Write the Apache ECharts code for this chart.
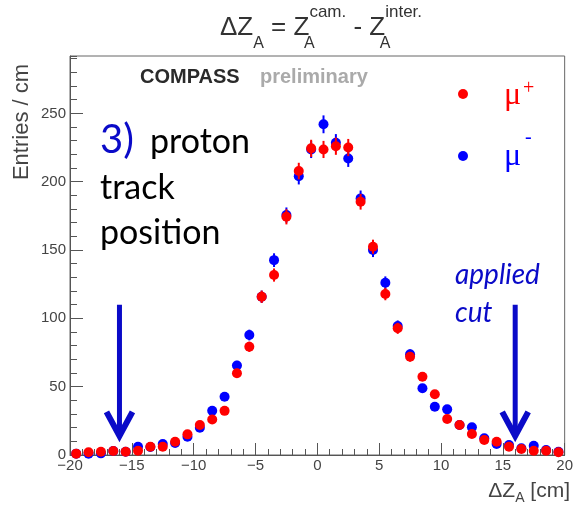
<!DOCTYPE html>
<html>
<head>
<meta charset="utf-8">
<title>ΔZ_A COMPASS</title>
<script src="https://cdn.jsdelivr.net/npm/echarts@6/dist/echarts.min.js"></script>
<style>
html, body { margin: 0; padding: 0; background: #fff; }
#chart { width: 576px; height: 505px; }
</style>
</head>
<body>
<div id="chart"></div>
<script>
// 1 cm bins, -20 .. 20
var binCenters = [-19.5, -18.5, -17.5, -16.5, -15.5, -14.5, -13.5, -12.5, -11.5, -10.5,
                  -9.5, -8.5, -7.5, -6.5, -5.5, -4.5, -3.5, -2.5, -1.5, -0.5,
                  0.5, 1.5, 2.5, 3.5, 4.5, 5.5, 6.5, 7.5, 8.5, 9.5,
                  10.5, 11.5, 12.5, 13.5, 14.5, 15.5, 16.5, 17.5, 18.5, 19.5];
// mu+ (red)
var muPlus = [1, 2, 2.4, 2.9, 2.4, 3.1, 6.1, 6.1, 9.7, 15.1,
              21.9, 26, 32.3, 59.8, 79.2, 115.8, 131.7, 174.3, 207.8, 224.4,
              223.6, 226, 225, 185.3, 152.4, 117.8, 92.7, 71.9, 57.3, 44.4,
              26.3, 21.9, 15.4, 11, 9.7, 6.1, 4.4, 3.1, 3.1, 2];
// mu- (blue)
var muMinus = [1, 1, 1.2, 2.9, 2.4, 6.1, 5.9, 8, 8.8, 13.4,
               20, 32.4, 42.6, 65.5, 87.8, 115.8, 142.6, 175.6, 204, 223.6,
               242, 228.5, 217, 187.8, 150, 126, 94.4, 73.7, 48.8, 35.3,
               33.4, 22, 20.3, 12.2, 8, 7.3, 4.9, 6.8, 3.7, 2.4];
// applied cut on |dZ|
var cutValues = [-16, 16];

var RED = '#ff0000';
var BLUE = '#0000ff';
var NOTE_BLUE = '#0a0ac8';
var TXT = '#444';

var chart = echarts.init(document.getElementById('chart'));

function pointItem(color) {
    return function (params, api) {
        var x = api.value(0), y = api.value(1);
        var c = api.coord([x, y]);
        var e = Math.sqrt(y) * 0.42;
        var hi = api.coord([x, y + e]);
        var lo = api.coord([x, Math.max(0, y - e)]);
        return {
            type: 'group',
            children: [
                { type: 'line', shape: { x1: c[0], y1: hi[1], x2: c[0], y2: lo[1] },
                  style: { stroke: color, lineWidth: 2 } },
                { type: 'circle', shape: { cx: c[0], cy: c[1], r: 5 }, style: { fill: color } }
            ]
        };
    };
}

// arrows pointing down at the cut positions
function arrowItem(params, api) {
    var x = api.value(0);
    var top = api.coord([x, 110]);
    var tip = api.coord([x, 14]);
    return {
        type: 'group',
        children: [
            { type: 'line', shape: { x1: top[0], y1: top[1], x2: tip[0], y2: tip[1] - 3 },
              style: { stroke: NOTE_BLUE, lineWidth: 5 } },
            { type: 'polyline',
              shape: { points: [[tip[0] - 13, tip[1] - 24], [tip[0], tip[1]], [tip[0] + 13, tip[1] - 24]] },
              style: { stroke: NOTE_BLUE, lineWidth: 6, fill: null, lineJoin: 'miter' } }
        ]
    };
}

var option = {
    animation: false,
    backgroundColor: '#fff',
    grid: { left: 70, right: 4, top: 56, bottom: 50, show: true, borderColor: '#666', borderWidth: 1 },
    xAxis: {
        type: 'value', min: -20, max: 20, interval: 5,
        axisLine: { onZero: false, lineStyle: { color: '#555' } },
        axisTick: { inside: true, length: 12, lineStyle: { color: '#555' } },
        minorTick: { show: true, splitNumber: 5, length: 6, lineStyle: { color: '#555' } },
        splitLine: { show: false },
        axisLabel: {
            color: TXT, fontSize: 15, fontFamily: 'Liberation Sans', margin: 3,
            formatter: function (v) { return String(v).replace('-', '\u2212'); }
        }
    },
    yAxis: [{
        type: 'value', min: 0, max: 292, interval: 50, position: 'left',
        axisLine: { show: true, onZero: false, lineStyle: { color: '#555' } },
        axisTick: { show: true, inside: true, length: 13, lineStyle: { color: '#555' } },
        splitLine: { show: false },
        axisLabel: { color: TXT, fontSize: 15, fontFamily: 'Liberation Sans', margin: 4, showMaxLabel: false }
    }, {
        // minor ticks every 10
        type: 'value', min: 0, max: 292, interval: 10, position: 'left',
        axisLine: { show: false, onZero: false },
        axisTick: { show: true, inside: true, length: 7, lineStyle: { color: '#555' } },
        splitLine: { show: false },
        axisLabel: { show: false }
    }],
    series: [{
        name: 'mu-', type: 'custom', renderItem: pointItem(BLUE),
        itemStyle: { color: BLUE },
        data: binCenters.map(function (x, i) { return [x, muMinus[i]]; })
    }, {
        name: 'mu+', type: 'custom', renderItem: pointItem(RED),
        itemStyle: { color: RED },
        data: binCenters.map(function (x, i) { return [x, muPlus[i]]; })
    }, {
        name: 'cut', type: 'custom', renderItem: arrowItem, z: 5,
        data: cutValues.map(function (v) { return [v, 0]; })
    }],
    graphic: [
        // title
        { type: 'text', x: 321, y: 4, style: {
            text: '{m|ΔZ}{sb|A}{m| = Z}{s0|A}{sp|cam.}{m| - Z}{s0|A}{sp|inter.}',
            align: 'center', verticalAlign: 'top', fill: '#333',
            rich: {
                m: { fontSize: 26, lineHeight: 48, fontFamily: 'Liberation Sans', fill: '#333' },
                sb: { fontSize: 16, lineHeight: 24, verticalAlign: 'bottom', fontFamily: 'Liberation Sans', fill: '#333' },
                s0: { fontSize: 16, lineHeight: 24, width: 0, verticalAlign: 'bottom', fontFamily: 'Liberation Sans', fill: '#333' },
                sp: { fontSize: 17, lineHeight: 14, verticalAlign: 'top', fontFamily: 'Liberation Sans', fill: '#333' }
            }
        } },
        // axis titles
        { type: 'text', x: 22, y: 122, rotation: Math.PI / 2, style: {
            text: 'Entries / cm', align: 'center', verticalAlign: 'middle',
            fontSize: 22, fontFamily: 'Liberation Sans', fill: TXT
        } },
        { type: 'text', x: 570, y: 477, style: {
            text: '{m|ΔZ}{sb|A}{m| [cm]}', align: 'right', verticalAlign: 'top', fill: TXT,
            rich: {
                m: { fontSize: 21, lineHeight: 28, fontFamily: 'Liberation Sans', fill: TXT },
                sb: { fontSize: 14, lineHeight: 14, verticalAlign: 'bottom', fontFamily: 'Liberation Sans', fill: TXT }
            }
        } },
        // experiment tag
        { type: 'text', x: 140, y: 77, style: {
            text: 'COMPASS', verticalAlign: 'middle', fontSize: 20, fontWeight: 'bold',
            fontFamily: 'Liberation Sans', fill: '#2a2a2a'
        } },
        { type: 'text', x: 260, y: 77, style: {
            text: 'preliminary', verticalAlign: 'middle', fontSize: 20, fontWeight: 'bold',
            fontFamily: 'Liberation Sans', fill: '#aaaaaa'
        } },
        // slide notes
        { type: 'text', x: 100, y: 140, style: {
            text: '3)', verticalAlign: 'middle', fontSize: 40, fontFamily: 'Lato', fill: NOTE_BLUE
        } },
        { type: 'text', x: 150, y: 142, style: {
            text: 'proton', verticalAlign: 'middle', fontSize: 34, fontFamily: 'Lato', fill: '#000'
        } },
        { type: 'text', x: 100, y: 188, style: {
            text: 'track', verticalAlign: 'middle', fontSize: 34, fontFamily: 'Lato', fill: '#000'
        } },
        { type: 'text', x: 100, y: 233, style: {
            text: 'position', verticalAlign: 'middle', fontSize: 34, fontFamily: 'Lato', fill: '#000'
        } },
        { type: 'text', x: 455, y: 275, style: {
            text: 'applied', verticalAlign: 'middle', fontSize: 28, fontStyle: 'italic',
            fontFamily: 'Lato', fill: NOTE_BLUE
        } },
        { type: 'text', x: 455, y: 313, style: {
            text: 'cut', verticalAlign: 'middle', fontSize: 28, fontStyle: 'italic',
            fontFamily: 'Lato', fill: NOTE_BLUE
        } },
        // legend
        { type: 'circle', shape: { cx: 463, cy: 94, r: 5 }, style: { fill: RED } },
        { type: 'text', x: 504, y: 96, style: {
            text: 'μ', verticalAlign: 'middle', fontSize: 32, fontFamily: 'Liberation Serif', fill: RED
        } },
        { type: 'text', x: 523, y: 89, style: {
            text: '+', verticalAlign: 'middle', fontSize: 20, fontFamily: 'Liberation Serif', fill: RED
        } },
        { type: 'circle', shape: { cx: 463, cy: 156, r: 5 }, style: { fill: BLUE } },
        { type: 'text', x: 504, y: 157, style: {
            text: 'μ', verticalAlign: 'middle', fontSize: 32, fontFamily: 'Liberation Serif', fill: BLUE
        } },
        { type: 'text', x: 525, y: 138, style: {
            text: '-', verticalAlign: 'middle', fontSize: 20, fontFamily: 'Liberation Serif', fill: BLUE
        } }
    ]
};

chart.setOption(option);
</script>
</body>
</html>
